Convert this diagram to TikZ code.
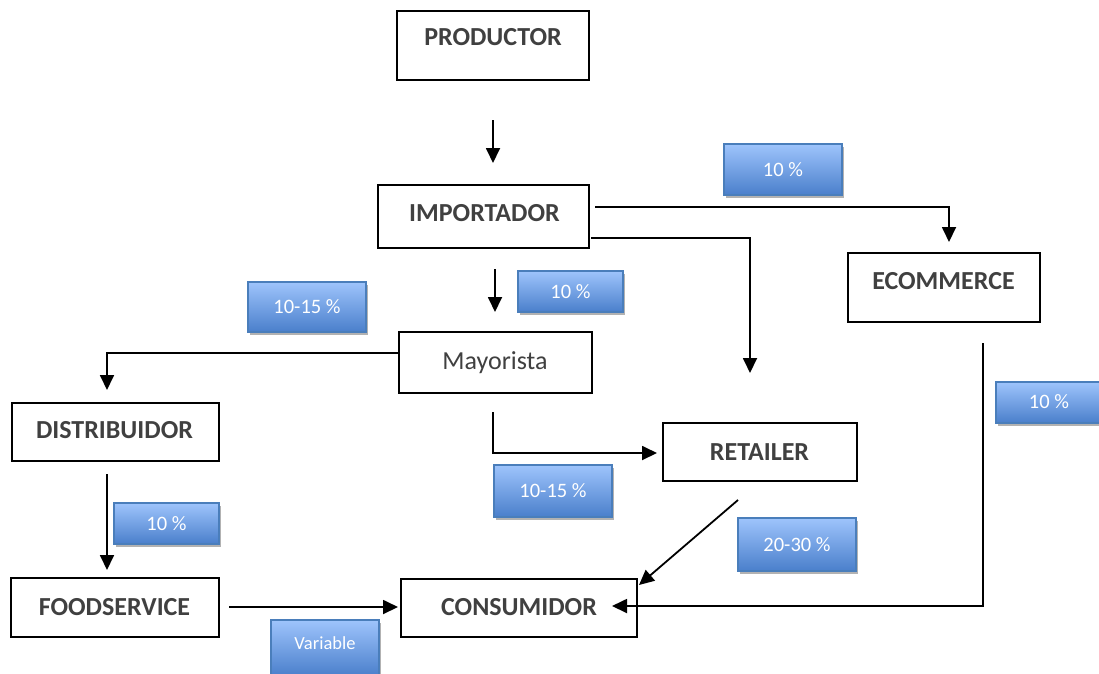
\documentclass[tikz,border=0pt]{standalone}
\usepackage{fontspec}
\setmainfont{Carlito}
\usetikzlibrary{arrows.meta,shadows}
\definecolor{txtgray}{HTML}{404040}
\definecolor{lbltop}{HTML}{9EC4FC}
\definecolor{lblbot}{HTML}{4A7FCB}
\definecolor{lbledge}{HTML}{4A7EBB}
\begin{document}
\begin{tikzpicture}[x=1pt,y=-1pt,
  box/.style={draw=black, line width=2pt, fill=white, inner sep=0pt},
  boxtxt/.style={anchor=base, text=txtgray, font=\fontsize{26}{30}\selectfont\bfseries, inner sep=0pt},
  plaintxt/.style={anchor=base, text=txtgray, font=\fontsize{26}{30}\selectfont, inner sep=0pt},
  lbl/.style={draw=lbledge, line width=1.2pt, top color=lbltop, bottom color=lblbot,
    text=white, font=\fontsize{20.5}{24}\selectfont, inner sep=0pt,
    drop shadow={shadow xshift=2pt, shadow yshift=-3pt, opacity=0.3, fill=black}},
  conn/.style={line width=1.8pt, -{Triangle[length=15pt,width=14pt]}}
]
\useasboundingbox (0,0) rectangle (1099,673);

% boxes
\node[box, minimum width=192pt, minimum height=69pt] (prod) at (493,45.5) {};
\node[boxtxt] (prodt) at (493,45.7) {PRODUCTOR};
\node[box, minimum width=211pt, minimum height=63pt] (imp) at (483.5,216.5) {};
\node[boxtxt] (impt) at (484.5,221) {IMPORTADOR};
\node[box, minimum width=192pt, minimum height=69pt] (ecom) at (944,287.5) {};
\node[boxtxt] (ecomt) at (943.5,289) {ECOMMERCE};
\node[box, minimum width=193pt, minimum height=61pt] (may) at (495.5,362.5) {};
\node[plaintxt] (mayt) at (495,369) {Mayorista};
\node[box, minimum width=207pt, minimum height=58pt] (dist) at (115.5,432) {};
\node[boxtxt] (distt) at (114.5,438) {DISTRIBUIDOR};
\node[box, minimum width=208pt, minimum height=59pt] (food) at (115,607.5) {};
\node[boxtxt] (foodt) at (114.5,615) {FOODSERVICE};
\node[box, minimum width=194pt, minimum height=58pt] (ret) at (760,452) {};
\node[boxtxt] (rett) at (759.5,460) {RETAILER};
\node[box, minimum width=236pt, minimum height=58pt] (cons) at (519,608) {};
\node[boxtxt] (const) at (519,615) {CONSUMIDOR};

% percentage labels
\node[lbl, minimum width=118pt, minimum height=51pt] (l1) at (783,169.5) {10 \%};
\node[lbl, minimum width=105pt, minimum height=41pt] (l2) at (570.5,291.5) {10 \%};
\node[lbl, minimum width=118pt, minimum height=50pt] (l3) at (307,307) {10-15 \%};
\node[lbl, minimum width=106pt, minimum height=41pt, text depth=3pt] (l4) at (1049,402.5) {10 \%};
\node[lbl, minimum width=118pt, minimum height=52pt] (l5) at (553,491) {10-15 \%};
\node[lbl, minimum width=105pt, minimum height=41pt] (l6) at (166.5,523.5) {10 \%};
\node[lbl, minimum width=118pt, minimum height=53pt] (l7) at (797,544.5) {20-30 \%};
\node[lbl, minimum width=108pt, minimum height=56pt, text depth=10pt,
  font=\fontsize{18.5}{22}\selectfont] (l8) at (325,648) {Variable};

% connector ends
\coordinate (c1s) at (493,120);  \coordinate (c1e) at (493,163);
\coordinate (c2s) at (595,207);  \coordinate (c2e) at (949,242);
\coordinate (c3s) at (591,238);  \coordinate (c3e) at (750,373);
\coordinate (c4s) at (495,269);  \coordinate (c4e) at (495,312);
\coordinate (c5s) at (399,353);  \coordinate (c5e) at (107,390);
\coordinate (c6s) at (493,412);  \coordinate (c6e) at (657,453);
\coordinate (c7s) at (107,474);  \coordinate (c7e) at (107,570);
\coordinate (c8s) at (229,607);  \coordinate (c8e) at (398,607);
\coordinate (c9s) at (738,500);  \coordinate (c9e) at (639,585);
\coordinate (c10s) at (983,343); \coordinate (c10e) at (612,606);

\draw[conn] (c1s) -- (c1e);
\draw[conn] (c2s) -| (c2e);
\draw[conn] (c3s) -| (c3e);
\draw[conn] (c4s) -- (c4e);
\draw[conn] (c5s) -| (c5e);
\draw[conn] (c6s) |- (c6e);
\draw[conn] (c7s) -- (c7e);
\draw[conn] (c8s) -- (c8e);
\draw[conn] (c9s) -- (c9e);
\draw[conn] (c10s) |- (c10e);
\end{tikzpicture}
\end{document}
